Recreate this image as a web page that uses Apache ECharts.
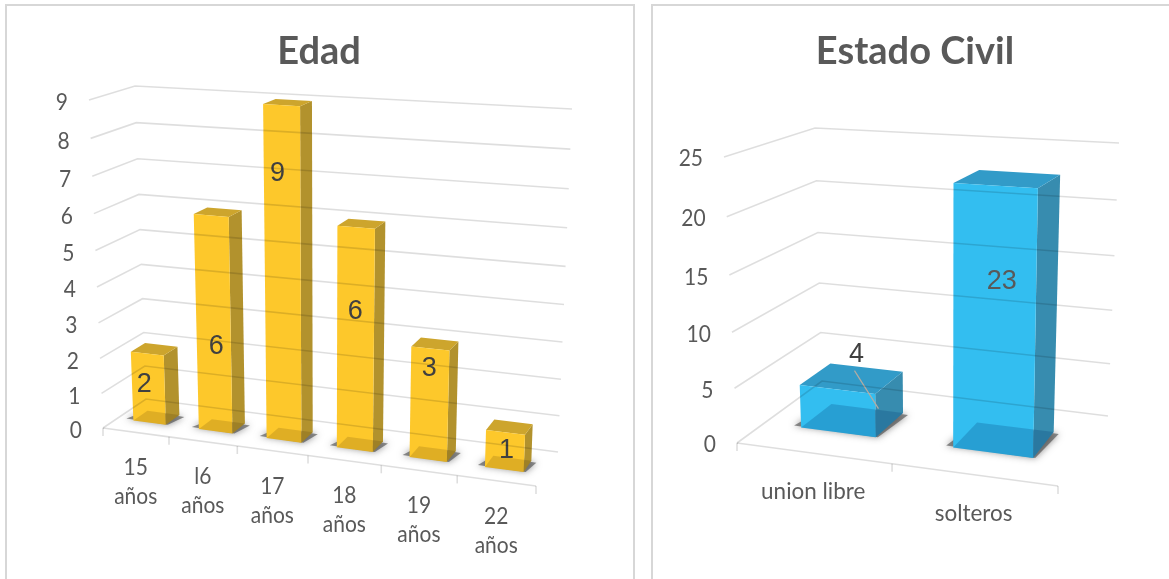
<!DOCTYPE html>
<html><head><meta charset="utf-8">
<style>html,body{margin:0;padding:0;background:#fff}#c{width:1169px;height:579px}</style>
<script src="https://cdn.jsdelivr.net/npm/echarts@6/dist/echarts.min.js"></script>
</head><body><div id="c"></div>
<script>
// ---- data ----
const edadCategories = ['15 años', 'l6 años', '17 años', '18 años', '19 años', '22 años'];
const edadValues = [2, 6, 9, 6, 3, 1];
const edadTicks = [0, 1, 2, 3, 4, 5, 6, 7, 8, 9];
const civilCategories = ['union libre', 'solteros'];
const civilValues = [4, 23];
const civilTicks = [0, 5, 10, 15, 20, 25];

// ---- perspective box: corners of the plot box on screen ----
const edadBox = {
  grid: {left: 89, top: 100, width: 469, height: 330},
  fl0: [103, 428], fl1: [89, 100], fr0: [536, 486], fr1: [550, 126],
  bl0: [146, 399], bl1: [135, 86], br0: [558, 452], br1: [572, 109],
  cu: 1.112, cv: 1.06, w0: 1 / 3, w1: 2 / 3,
  front: '#FDC82B', side: '#B2922D', top: '#CDA52D', floorTint: 'rgba(40,20,0,0.14)',
  labelOffsets: [[-3, 29], [5, 129], [-4, 66], [-1, 82], [-1, 18], [1, 16]],
  labelColor: '#404040', catDy: 21, catLine: 29, catScaleX: 1, tickDy: 3
};
const civilBox = {
  grid: {left: 724, top: 128, width: 380, height: 315},
  fl0: [737, 443], fl1: [724, 157], fr0: [1058, 486], fr1: [1064, 177],
  bl0: [822, 381], bl1: [815, 128], br0: [1108, 416], br1: [1119, 143],
  cu: 1.07, cv: 1.055, w0: 0.325, w1: 0.7,
  front: '#33BEF0', side: '#378CAF', top: '#329BC8', floorTint: 'rgba(0,50,110,0.22)',
  labelOffsets: [[19, -37], [6, 94]],
  labelColor: '#404040', catDy: 24, catLine: 29, catScaleX: 1.07, tickDy: 2,
  leader: [0, [17, -19], [41, 19]]
};

const warp = (t, c) => t / (t + c * (1 - t));
const lerp = (a, b, t) => [a[0] + (b[0] - a[0]) * t, a[1] + (b[1] - a[1]) * t];
function project(box, u, w, v) {
  const tu = warp(u, box.cu), tv = warp(v, box.cv);
  const f = lerp(lerp(box.fl0, box.fl1, tv), lerp(box.fr0, box.fr1, tv), tu);
  const b = lerp(lerp(box.bl0, box.bl1, tv), lerp(box.br0, box.br1, tv), tu);
  return lerp(f, b, w);
}
// library scales -> normalised box coordinates
function norm(box, px, py) {
  const g = box.grid;
  return [(px - g.left) / g.width, (g.top + g.height - py) / g.height];
}
const gridStroke = {stroke: 'rgba(0,0,0,0.13)', lineWidth: 1.6, fill: null};
const sans = 'Lato, "Open Sans", sans-serif';

function wallSeries(box, gridIdx, ticks) {
  return {
    type: 'custom', coordinateSystem: 'cartesian2d', xAxisIndex: gridIdx, yAxisIndex: gridIdx,
    silent: true, z: 4, data: ticks.map(t => [0, t]),
    renderItem(params, api) {
      const val = api.value(1);
      const c = api.coord([0, val]);
      const v = norm(box, c[0], c[1])[1];
      const a = project(box, 0, 0, v), b = project(box, 0, 1, v), d = project(box, 1, 1, v);
      return {type: 'group', children: [
        {type: 'polyline', shape: {points: [a, b, d]}, style: gridStroke},
        {type: 'text', x: a[0] - 21, y: a[1] + box.tickDy, scaleY: 1.1, style: {text: String(val), align: 'right', verticalAlign: 'middle', font: '21px ' + sans, fill: '#595959'}}
      ]};
    }
  };
}
function floorSeries(box, gridIdx, cats) {
  return {
    type: 'custom', coordinateSystem: 'cartesian2d', xAxisIndex: gridIdx, yAxisIndex: gridIdx,
    silent: true, z: 2, data: cats.map((n, i) => [i, 0]),
    renderItem(params, api) {
      const i = api.value(0);
      const c = api.coord([i, 0]), bw = api.size([1, 0])[0];
      const uc = norm(box, c[0], c[1])[0], du = bw / box.grid.width / 2;
      const e0 = project(box, uc - du, 0, 0), e1 = project(box, uc + du, 0, 0), mid = project(box, uc, 0, 0);
      const kids = [
        {type: 'line', shape: {x1: e0[0], y1: e0[1], x2: e1[0], y2: e1[1]}, style: gridStroke},
        {type: 'line', shape: {x1: e1[0], y1: e1[1], x2: e1[0], y2: e1[1] + 8}, style: gridStroke},
        {type: 'text', x: mid[0], y: mid[1] + box.catDy, scaleY: 1.1, scaleX: box.catScaleX, style: {text: cats[i].length < 8 ? cats[i].replace(' ', '\n') : cats[i], align: 'center', verticalAlign: 'top', font: '21px ' + sans, fill: '#595959', lineHeight: box.catLine / 1.1}}
      ];
      if (i === 0) kids.push({type: 'line', shape: {x1: e0[0], y1: e0[1], x2: e0[0], y2: e0[1] + 8}, style: gridStroke});
      return {type: 'group', children: kids};
    }
  };
}
function barSeries(box, gridIdx, cats) {
  return {
    type: 'custom', coordinateSystem: 'cartesian2d', xAxisIndex: gridIdx, yAxisIndex: gridIdx,
    silent: true, z: 3, data: cats,
    renderItem(params, api) {
      const i = api.value(0), val = api.value(1);
      const c = api.coord([i, val]), bw = api.size([1, 0])[0];
      const [uc, v] = norm(box, c[0], c[1]);
      const du = bw / box.grid.width / 4, u0 = uc - du, u1 = uc + du, w0 = box.w0, w1 = box.w1;
      const P = (u, w, h) => project(box, u, w, h);
      const poly = (pts, fill, extra) => ({type: 'polygon', shape: {points: pts}, style: Object.assign({fill, stroke: null}, extra || {})});
      const nudge = (p, dx, dy) => [p[0] + dx, p[1] + dy];
      const ftl = P(u0, w0, v), ftr = P(u1, w0, v);
      const tc = lerp(ftl, ftr, 0.5);
      const off = box.labelOffsets[i];
      const kids = [
        poly([nudge(P(u0, w0, 0), -7, -2), nudge(P(u1, w0, 0), 2, 0), nudge(P(u1, w1, 0), 5, 2), P(u0, w1, 0)],
             'rgba(70,70,70,0.6)', {shadowBlur: 7, shadowColor: 'rgba(50,50,50,0.9)'}),
        poly([P(u1, w0, 0), P(u1, w1, 0), P(u1, w1, v), P(u1, w0, v)], box.side),
        poly([P(u0, w0, v), P(u1, w0, v), P(u1, w1, v), P(u0, w1, v)], box.top),
        poly([P(u0, w0, 0), P(u1, w0, 0), P(u1, w0, v), P(u0, w0, v)], box.front),
        poly([P(u0, w0, 0), P(u1, w0, 0), P(u1, w1, 0), P(u0, w1, 0)], box.floorTint)
      ];
      if (box.leader && box.leader[0] === i) {
        kids.push({type: 'line', shape: {x1: tc[0] + box.leader[1][0], y1: tc[1] + box.leader[1][1], x2: tc[0] + box.leader[2][0], y2: tc[1] + box.leader[2][1]},
          style: {stroke: '#b5aca2', lineWidth: 1.2}});
      }
      kids.push({type: 'text', x: tc[0] + off[0], y: tc[1] + off[1] + 2, style: {text: String(val), align: 'center', verticalAlign: 'middle', font: '27px "Liberation Sans", Arial, sans-serif', fill: val === 23 ? '#595959' : box.labelColor}});
      return {type: 'group', children: kids};
    }
  };
}
function frame(x, y, w, h) {
  return {type: 'rect', shape: {x, y, width: w, height: h}, style: {fill: '#fff', stroke: '#d7d7d7', lineWidth: 2}, z: -1, silent: true};
}
const titleStyle = {fontFamily: sans, fontWeight: 'bold', fontSize: 38, color: '#595959'};
const option = {
  animation: false,
  backgroundColor: '#ffffff',
  title: [
    {text: 'Edad', left: 319, top: 33, padding: 0, textAlign: 'center', textStyle: titleStyle},
    {text: 'Estado Civil', left: 915, top: 33, padding: 0, textAlign: 'center', textStyle: titleStyle}
  ],
  graphic: [frame(6, 5, 628, 600), frame(652, 5, 540, 600)],
  grid: [edadBox.grid, civilBox.grid],
  xAxis: [
    {type: 'category', gridIndex: 0, data: edadCategories, show: false},
    {type: 'category', gridIndex: 1, data: civilCategories, show: false}
  ],
  yAxis: [
    {type: 'value', gridIndex: 0, min: 0, max: 9, interval: 1, show: false},
    {type: 'value', gridIndex: 1, min: 0, max: 25, interval: 5, show: false}
  ],
  series: [
    wallSeries(edadBox, 0, edadTicks),
    floorSeries(edadBox, 0, edadCategories),
    Object.assign(barSeries(edadBox, 0, edadCategories), {name: 'Edad', data: edadValues.map((v, i) => [i, v])}),
    wallSeries(civilBox, 1, civilTicks),
    floorSeries(civilBox, 1, civilCategories),
    Object.assign(barSeries(civilBox, 1, civilCategories), {name: 'Estado Civil', data: civilValues.map((v, i) => [i, v])})
  ]
};
echarts.init(document.getElementById('c'), null, {renderer: 'canvas'}).setOption(option);
</script></body></html>
